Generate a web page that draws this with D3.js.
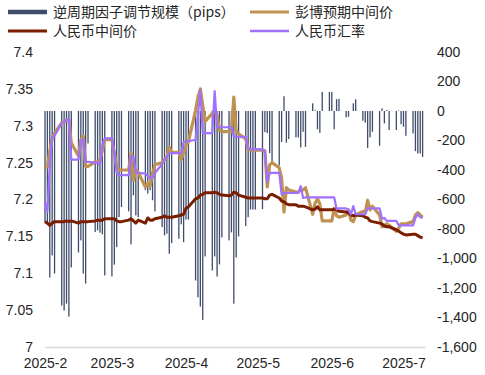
<!DOCTYPE html>
<html>
<head>
<meta charset="utf-8">
<script src="https://cdn.jsdelivr.net/npm/d3@7"></script>
<style>
  body { margin: 0; background: #fff; }
  svg { display: block; }
  text { font-family: "Liberation Sans", Arial, sans-serif; fill: #262626; }
  .legend text { font-family: "Noto Sans CJK SC", sans-serif; }
</style>
</head>
<body>
<div id="drawing"></div>
<script>
// trading days run Mon-Fri from the first to the last date
var firstDay = "2025-02-03";
var lastDay = "2025-07-11";
var monthTicks = ["2025-02-03", "2025-03-03", "2025-04-03", "2025-05-03", "2025-06-03", "2025-07-03"];
var leftTicks = [7, 7.05, 7.1, 7.15, 7.2, 7.25, 7.3, 7.35, 7.4];
var rightTicks = [-1600, -1400, -1200, -1000, -800, -600, -400, -200, 0, 200, 400];
var seriesNames = ["逆周期因子调节规模（pips）", "彭博预期中间价", "人民币中间价", "人民币汇率"];

// 逆周期因子调节规模 (pips), one row per week
var factor = [
  -755, -760, -1129, -979, -1102,
  -1319, -1353, -1306, -1394, -1061,
  -959, -877, -1102, -1170, -220,
  -821, -809, -825, -836, -1115,
  -1122, -1042, -923, -719, -651,
  -680, -904, -571, -707, -719,
  -537, -560, -537, -605, -680,
  -787, -843, -832, -968, -896,
  -866, -768, -889, -736, -736,
  -1149, -1263, -1326, -1416, -986,
  -1081, -986, -1122, -1040, -857,
  -877, -823, -1306, -993, -850,
  -780, -720, -668, -668, -668,
  -665, -143, -150, -286, -347,
  -370, -210, 100, -215, -190,
  -179, -179, -247, -141, -243,
  52, 5, -124, -148, 129,
  129, 129, -124, 80, 82,
  -43, -39, 0, 52, 80,
  -66, -80, -250, -179, -141,
  -236, 18, -84, 7, -129,
  -129, 3, -90, -107, -168,
  -152, -272, -288, -288, -311
];

// 彭博预期中间价
var bbgFix = [
  7.244, 7.244, 7.266, 7.283, 7.290,
  7.304, 7.305, 7.308, 7.308, 7.277,
  7.259, 7.281, 7.286, 7.245, 7.245,
  7.251, 7.251, 7.254, 7.267, 7.281,
  7.281, 7.264, 7.243, 7.240, 7.240,
  7.240, 7.263, 7.226, 7.240, 7.237,
  7.217, 7.222, 7.218, 7.236, 7.247,
  7.250, 7.254, 7.258, 7.271, 7.264,
  7.264, 7.254, 7.264, 7.274, 7.278,
  7.321, 7.339, 7.350, 7.327, 7.306,
  7.317, 7.321, 7.315, 7.294, 7.292,
  7.292, 7.292, 7.339, 7.292, 7.289,
  7.282, 7.268, 7.267, 7.267, 7.267,
  7.267, 7.266, 7.217, 7.247, 7.250,
  7.243, 7.229, 7.183, 7.216, 7.213,
  7.210, 7.210, 7.213, 7.213, 7.216,
  7.180, 7.195, 7.201, 7.194, 7.171,
  7.171, 7.171, 7.188, 7.178, 7.176,
  7.179, 7.186, 7.172, 7.170, 7.179,
  7.184, 7.183, 7.199, 7.186, 7.191,
  7.179, 7.163, 7.165, 7.167, 7.165,
  7.157, 7.161, 7.167, 7.167, 7.167,
  7.170, 7.179, 7.182, 7.179, 7.176
];

// 人民币中间价
var cnyFix = [
  7.170, 7.168, 7.165, 7.168, 7.170,
  7.170, 7.170, 7.171, 7.170, 7.171,
  7.168, 7.170, 7.170, 7.170, 7.170,
  7.171, 7.172, 7.172, 7.172, 7.174,
  7.174, 7.174, 7.171, 7.170, 7.170,
  7.172, 7.174, 7.171, 7.168, 7.172,
  7.168, 7.175, 7.172, 7.172, 7.174,
  7.176, 7.178, 7.176, 7.176, 7.176,
  7.178, 7.179, 7.180, 7.188, 7.190,
  7.201, 7.202, 7.206, 7.207, 7.209,
  7.209, 7.210, 7.209, 7.207, 7.206,
  7.205, 7.206, 7.210, 7.209, 7.206,
  7.203, 7.202, 7.202, 7.202, 7.202,
  7.202, 7.201, 7.201, 7.206, 7.207,
  7.202, 7.198, 7.197, 7.194, 7.193,
  7.193, 7.191, 7.191, 7.191, 7.190,
  7.186, 7.187, 7.190, 7.186, 7.186,
  7.186, 7.186, 7.187, 7.186, 7.184,
  7.183, 7.182, 7.179, 7.178, 7.179,
  7.178, 7.176, 7.175, 7.171, 7.170,
  7.168, 7.167, 7.164, 7.163, 7.163,
  7.159, 7.157, 7.155, 7.153, 7.152,
  7.153, 7.153, 7.151, 7.149, 7.148
];

// 人民币汇率
var cnySpot = [
  7.197, 7.183, 7.247, 7.285, 7.286,
  7.304, 7.305, 7.308, 7.309, 7.254,
  7.254, 7.279, 7.282, 7.251, 7.251,
  7.250, 7.250, 7.247, 7.274, 7.283,
  7.283, 7.264, 7.236, 7.233, 7.233,
  7.233, 7.259, 7.258, 7.237, 7.236,
  7.235, 7.232, 7.229, 7.229, 7.236,
  7.248, 7.254, 7.258, 7.263, 7.263,
  7.263, 7.263, 7.278, 7.279, 7.279,
  7.281, 7.315, 7.348, 7.290, 7.290,
  7.290, 7.347, 7.298, 7.298, 7.298,
  7.298, 7.298, 7.285, 7.285, 7.285,
  7.285, 7.270, 7.268, 7.268, 7.268,
  7.268, 7.266, 7.224, 7.236, 7.236,
  7.236, 7.207, 7.209, 7.209, 7.209,
  7.209, 7.209, 7.218, 7.202, 7.203,
  7.203, 7.203, 7.203, 7.203, 7.203,
  7.203, 7.203, 7.203, 7.187, 7.188,
  7.188, 7.186, 7.180, 7.191, 7.180,
  7.180, 7.180, 7.188, 7.188, 7.188,
  7.188, 7.174, 7.175, 7.171, 7.171,
  7.171, 7.165, 7.165, 7.165, 7.165,
  7.165, 7.175, 7.180, 7.176, 7.175
];

var width = 485, height = 375;
var plot = {left: 45, right: 425, top: 52, bottom: 347};
var colors = {bar: "#3F4C6B", bbg: "#C09252", fix: "#7A1E00", spot: "#A070FF"};

var parse = d3.timeParse("%Y-%m-%d");
var days = d3.timeDay.range(parse(firstDay), d3.timeDay.offset(parse(lastDay), 1))
  .filter(function(d) { return d.getDay() !== 0 && d.getDay() !== 6; });

var svg = d3.select("#drawing").append("svg")
  .attr("width", width)
  .attr("height", height);

var x = d3.scaleTime()
  .domain([parse(firstDay), d3.timeDay.offset(parse(lastDay), 1)])
  .range([plot.left, plot.right]);
var yL = d3.scaleLinear().domain([7, 7.4]).range([plot.bottom, plot.top]);
var yR = d3.scaleLinear().domain([-1600, 400]).range([plot.bottom, plot.top]);

var fmtR = d3.formatLocale({decimal: ".", thousands: ",", grouping: [3], currency: ["", ""], minus: "-"}).format(",");

// axes
var xAxis = svg.append("g")
  .attr("transform", `translate(0, ${plot.bottom})`)
  .call(d3.axisBottom(x)
    .tickValues(monthTicks.map(parse))
    .tickFormat(d3.timeFormat("%Y-%-m"))
    .tickSize(0)
    .tickPadding(11));
xAxis.select(".domain").attr("stroke", "#D9D9D9").attr("stroke-width", 1.3);
xAxis.selectAll("text").style("font-size", "14px");

var leftAxis = svg.append("g")
  .attr("transform", `translate(${plot.left}, 0)`)
  .call(d3.axisLeft(yL).tickValues(leftTicks).tickFormat(d3.format("~g")).tickSize(0).tickPadding(12));
leftAxis.select(".domain").remove();
leftAxis.selectAll("text").style("font-size", "14px");

var rightAxis = svg.append("g")
  .attr("transform", `translate(${plot.right}, 0)`)
  .call(d3.axisRight(yR).tickValues(rightTicks).tickFormat(fmtR).tickSize(0).tickPadding(12));
rightAxis.select(".domain").remove();
rightAxis.selectAll("text").style("font-size", "14px");

// bars
svg.append("g").selectAll("rect")
  .data(factor)
  .join("rect")
  .attr("x", function(d, i) { return x(days[i]) - 0.65; })
  .attr("width", 1.3)
  .attr("y", function(d) { return Math.min(yR(d), yR(0)); })
  .attr("height", function(d) { return Math.abs(yR(d) - yR(0)); })
  .attr("fill", colors.bar);

// lines
var line = d3.line()
  .x(function(d, i) { return x(days[i]); })
  .y(function(d) { return yL(d); });

[[bbgFix, colors.bbg, 3.2], [cnyFix, colors.fix, 3], [cnySpot, colors.spot, 2.2]].forEach(function(s) {
  svg.append("path")
    .attr("d", line(s[0]))
    .attr("fill", "none")
    .attr("stroke", s[1])
    .attr("stroke-width", s[2])
    .attr("stroke-linejoin", "round");
});

// legend
var legend = svg.append("g").attr("class", "legend");
var legendPos = [[8, 12, colors.bar, 4.5], [250, 12, colors.bbg, 3.2], [8, 31, colors.fix, 3], [250, 31, colors.spot, 2.5]];
legendPos.forEach(function(p, i) {
  legend.append("line")
    .attr("x1", p[0]).attr("x2", p[0] + 39)
    .attr("y1", p[1]).attr("y2", p[1])
    .attr("stroke", p[2])
    .attr("stroke-width", p[3]);
  legend.append("text")
    .attr("x", p[0] + 45)
    .attr("y", p[1])
    .attr("dy", "0.35em")
    .style("font-size", "14px")
    .text(seriesNames[i]);
});
</script>
</body>
</html>
